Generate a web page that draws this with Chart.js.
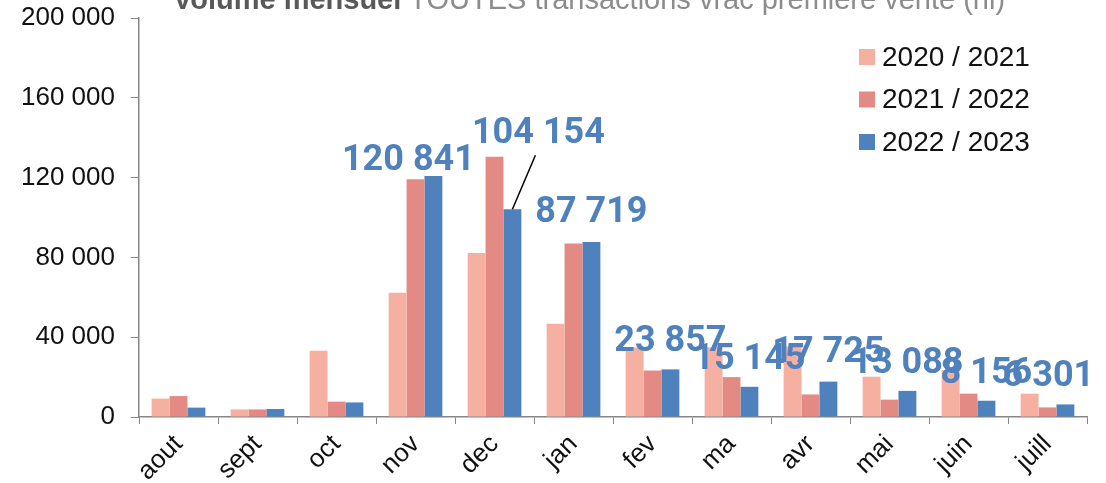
<!DOCTYPE html>
<html lang="fr">
<head>
  <meta charset="UTF-8" />
  <title>Volume mensuel</title>
  <script src="https://cdn.jsdelivr.net/npm/chart.js"></script>
  <style>
    * { margin: 0; padding: 0; box-sizing: border-box }
    body { background: #fff; width: 1106px; height: 483px; overflow: hidden }
    #wrap { position: relative; width: 1106px; height: 483px }
  </style>
</head>
<body>
  <div id="wrap"><canvas id="graphique"></canvas></div>
  <script>
    // données (hl)
    const mois = ['aout', 'sept', 'oct', 'nov', 'dec', 'jan', 'fev', 'ma', 'avr', 'mai', 'juin', 'juill'];
    const saisons = ['2020 / 2021', '2021 / 2022', '2022 / 2023'];
    const vol2021 = [9200, 3800, 33200, 62300, 82200, 46700, 34800, 35000, 35400, 20200, 23500, 11700];
    const vol2022 = [10500, 3800, 7700, 119200, 130500, 87000, 23300, 20000, 11300, 8700, 11700, 4800];
    const vol2023 = [4700, 4000, 7300, 120841, 104154, 87719, 23857, 15145, 17725, 13088, 8156, 6301];
    const yTicks = [0, 40000, 80000, 120000, 160000, 200000];

    const couleurs = ['#F5B0A1', '#E48A84', '#4F81BD'];
    const police = '"Liberation Sans", Arial, sans-serif';

    // étiquettes placées à la main comme dans l'original (décalage x, écart au-dessus de la barre)
    const placement = [null, null, null,
      { dx: -25, gap: 6 }, { dx: 26, gap: 66, trait: true }, { dx: 0, gap: 20 },
      { dx: 0, gap: 18 }, { dx: 0, gap: 18 }, { dx: 0, gap: 20 },
      { dx: 0, gap: 18 }, { dx: 0, gap: 18 }, { dx: -17, gap: 18 }];

    const fmt = v => String(v).replace(/\B(?=(\d{3})+(?!\d))/g, ' ');

    const etiquettes = {
      id: 'etiquettes',
      afterDatasetsDraw(chart) {
        const c = chart.ctx;
        const meta = chart.getDatasetMeta(2);
        c.save();
        c.font = 'bold 36px Roboto, sans-serif';
        c.fillStyle = '#4F81BD';
        c.textAlign = 'center';
        c.textBaseline = 'alphabetic';
        meta.data.forEach((bar, i) => {
          const p = placement[i];
          if (!p) return;
          const x = bar.x + p.dx, y = bar.y - p.gap;
          if (p.trait) {
            c.strokeStyle = '#000';
            c.lineWidth = 1.5;
            c.beginPath();
            c.moveTo(x - 3, y + 12);
            c.lineTo(bar.x, bar.y);
            c.stroke();
          }
          c.fillText(fmt(chart.data.datasets[2].data[i]), x, y);
        });
        c.restore();
      },
      afterDraw(chart) {
        const c = chart.ctx;
        c.save();
        // légende
        c.font = '28px ' + police;
        c.textBaseline = 'middle';
        chart.data.datasets.forEach((ds, i) => {
          const y = 57 + i * 42.5;
          c.fillStyle = ds.backgroundColor;
          c.fillRect(859, y - 8, 16, 16);
          c.fillStyle = '#111';
          c.fillText(ds.label, 882, y + 1);
        });
        // titre coupé en haut
        const t1 = 'Volume mensuel ', t2 = 'TOUTES transactions vrac première vente (hl)';
        c.textBaseline = 'alphabetic';
        c.font = 'bold 28px ' + police;
        const w1 = c.measureText(t1).width;
        c.font = '28px ' + police;
        const w2 = c.measureText(t2).width;
        const k = 832 / (w1 + w2);
        c.font = 'bold ' + (28 * k).toFixed(1) + 'px ' + police;
        c.fillStyle = '#595959';
        c.fillText(t1, 173, 9);
        c.font = (28 * k).toFixed(1) + 'px ' + police;
        c.fillStyle = '#8C8C8C';
        c.fillText(t2, 173 + w1 * k, 9);
        c.restore();
      }
    };

    const ctx = document.getElementById('graphique').getContext('2d');
    new Chart(ctx, {
      type: 'bar',
      data: {
        labels: mois,
        datasets: [
          { label: saisons[0], data: vol2021, backgroundColor: couleurs[0] },
          { label: saisons[1], data: vol2022, backgroundColor: couleurs[1] },
          { label: saisons[2], data: vol2023, backgroundColor: couleurs[2] }
        ]
      },
      options: {
        responsive: true,
        maintainAspectRatio: false,
        animation: false,
        layout: { padding: { top: 18, right: 19, left: 0, bottom: 0 } },
        datasets: { bar: { categoryPercentage: 0.68, barPercentage: 1 } },
        plugins: { legend: { display: false }, tooltip: { enabled: false } },
        scales: {
          x: {
            grid: { drawOnChartArea: false, offset: true, tickLength: 7, color: '#868686' },
            border: { color: '#868686', width: 1.5 },
            ticks: { minRotation: 45, maxRotation: 45, padding: 5, color: '#111', font: { family: police, size: 26 } },
            afterFit(s) { s.height = 66; s.paddingLeft = 0; s.paddingRight = 0; }
          },
          y: {
            min: 0, max: 200000,
            afterBuildTicks(s) { s.ticks = yTicks.map(v => ({ value: v })); },
            grid: { drawOnChartArea: false, tickLength: 8, color: '#868686' },
            border: { color: '#868686', width: 1.5 },
            ticks: { padding: 16, color: '#111', font: { family: police, size: 26 }, callback: v => fmt(v) },
            afterFit(s) { s.width = 139; s.paddingTop = 0; s.paddingBottom = 0; }
          }
        }
      },
      plugins: [etiquettes]
    });
  </script>
</body>
</html>
